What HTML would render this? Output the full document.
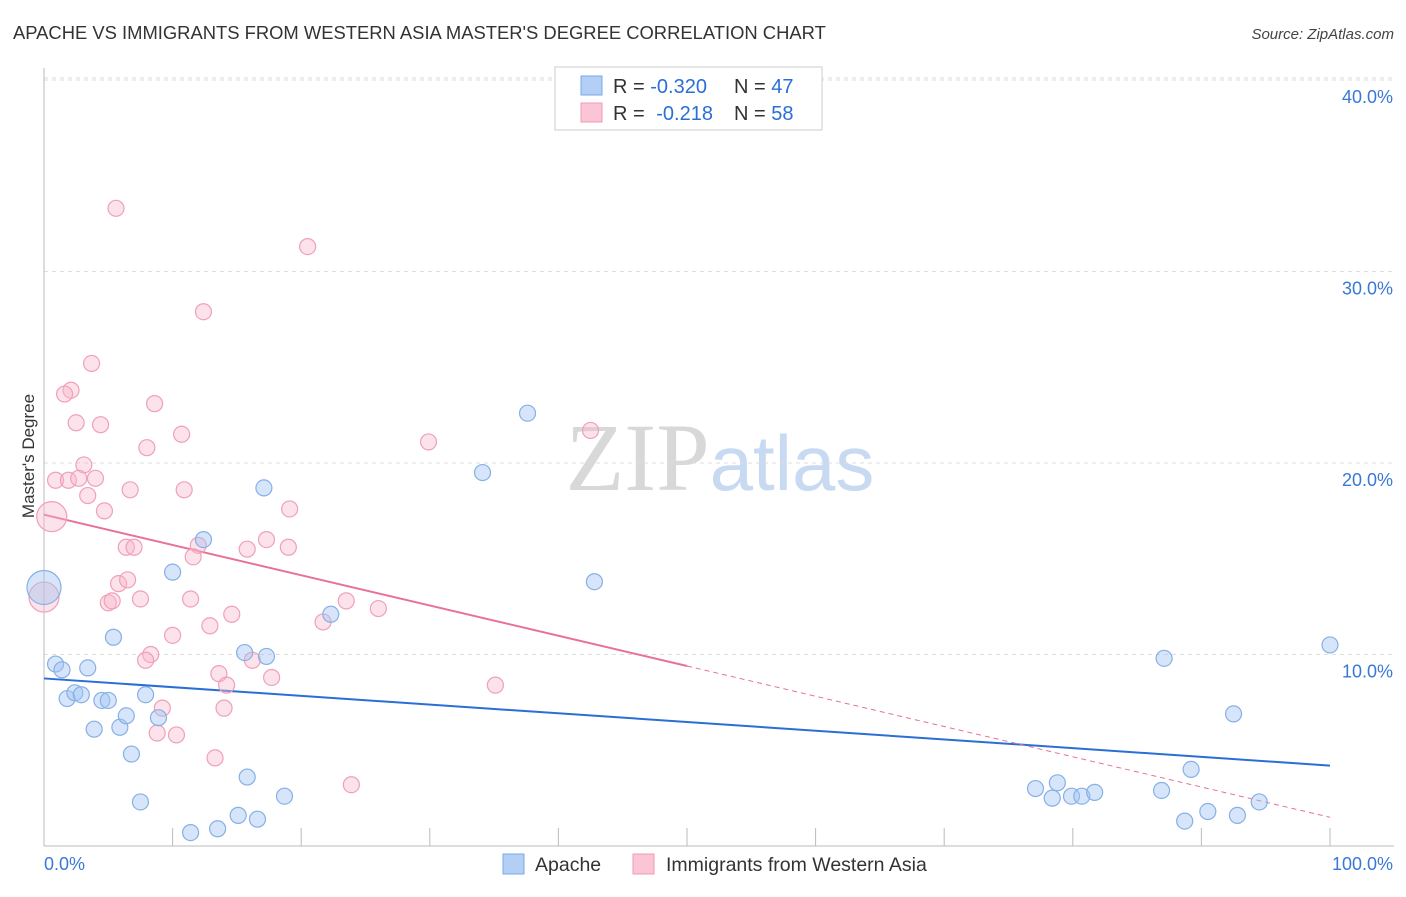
<!DOCTYPE html>
<html><head><meta charset="utf-8"><style>
body{margin:0;background:#fff;font-family:"Liberation Sans",sans-serif;}
svg text{font-family:"Liberation Sans",sans-serif;}
</style></head><body>
<svg id="chart" width="1406" height="892" viewBox="0 0 1406 892" xmlns="http://www.w3.org/2000/svg">
<text x="13" y="39" font-size="18.4" fill="#333">APACHE VS IMMIGRANTS FROM WESTERN ASIA MASTER'S DEGREE CORRELATION CHART</text>
<text x="1394" y="39" font-size="15" fill="#444" text-anchor="end" font-style="italic">Source: ZipAtlas.com</text>
<text x="720" y="490" font-size="96" text-anchor="middle"><tspan fill="#d8d8d8" font-family="Liberation Serif">ZIP</tspan><tspan fill="#c8daf2" font-size="78">atlas</tspan></text>
<g id="grid"></g>
<g id="axes"></g>
<text transform="translate(34,456) rotate(-90)" font-size="17" fill="#333" text-anchor="middle">Master's Degree</text>
<g id="lines"></g>
<g id="points"></g>
<g>
<rect x="555" y="67" width="267" height="63" fill="#fff" stroke="#ccc"/>
<rect x="581" y="76" width="21" height="19" fill="#b3cff5" stroke="#7aaae6"/>
<rect x="581" y="103" width="21" height="19" fill="#fac6d6" stroke="#f09ab6"/>
<text x="613" y="93" font-size="20" fill="#333">R = <tspan fill="#2a6fd6">-0.320</tspan><tspan x="734">N = </tspan><tspan fill="#2a6fd6">47</tspan></text>
<text x="613" y="120" font-size="20" fill="#333">R = <tspan fill="#2a6fd6" dx="6">-0.218</tspan><tspan x="734">N = </tspan><tspan fill="#2a6fd6">58</tspan></text>
</g>
<g>
<rect x="503" y="854" width="21" height="20" fill="#b3cff5" stroke="#7aaae6"/>
<text x="535" y="871" font-size="19.5" fill="#333">Apache</text>
<rect x="633" y="854" width="21" height="20" fill="#fac6d6" stroke="#f09ab6"/>
<text x="666" y="871" font-size="19.5" fill="#333">Immigrants from Western Asia</text>
</g>
</svg>
<script>
const yTicks=[10,20,30,40];
const yTickLabels=["10.0%","20.0%","30.0%","40.0%"];
const xEndLabels=["0.0%","100.0%"];
const apacheX=[0,0.9,1.4,3.4,1.8,2.4,2.9,4.5,5.0,5.4,3.9,5.9,6.4,6.8,7.9,8.9,7.5,10.0,12.4,15.6,17.3,17.1,15.8,15.1,16.6,18.7,11.4,13.5,22.3,34.1,37.6,42.8,100,87.1,92.5,89.2,77.1,78.8,78.4,79.9,80.7,81.7,86.9,88.7,90.5,92.8,94.5];
const apacheY=[13.5,9.5,9.2,9.3,7.7,8.0,7.9,7.6,7.6,10.9,6.1,6.2,6.8,4.8,7.9,6.7,2.3,14.3,16.0,10.1,9.9,18.7,3.6,1.6,1.4,2.6,0.7,0.9,12.1,19.5,22.6,13.8,10.5,9.8,6.9,4.0,3.0,3.3,2.5,2.6,2.6,2.8,2.9,1.3,1.8,1.6,2.3];
const immX=[5.6,20.5,12.4,3.7,2.1,1.6,8.6,2.5,4.4,10.7,8.0,29.9,42.5,3.1,0.9,1.9,2.7,4.0,3.4,6.7,10.9,4.7,19.1,0.6,6.4,7.0,12.0,11.6,15.8,17.3,19.0,5.8,6.5,5.0,5.3,7.5,11.4,14.6,12.9,21.7,23.5,26.0,10.0,8.3,7.9,16.2,13.6,14.2,17.7,35.1,9.2,14.0,8.8,10.3,13.3,23.9,0];
const immY=[33.3,31.3,27.9,25.2,23.8,23.6,23.1,22.1,22.0,21.5,20.8,21.1,21.7,19.9,19.1,19.1,19.2,19.2,18.3,18.6,18.6,17.5,17.6,17.2,15.6,15.6,15.7,15.1,15.5,16.0,15.6,13.7,13.9,12.7,12.8,12.9,12.9,12.1,11.5,11.7,12.8,12.4,11.0,10.0,9.7,9.7,9.0,8.4,8.8,8.4,7.2,7.2,5.9,5.8,4.6,3.2,13.0];
const apacheTrend=[8.75,4.2];
const immTrend=[17.3,1.5];
const immSolidEnd=50;

const NS="http://www.w3.org/2000/svg";
const X0=44,X1=1330,Y0=846,PXY=19.15;
const sx=v=>X0+(X1-X0)*v/100;
const sy=v=>Y0-v*PXY;
function mk(tag,attrs,parent){const e=document.createElementNS(NS,tag);for(const k in attrs)e.setAttribute(k,attrs[k]);parent.appendChild(e);return e;}
const grid=document.getElementById('grid'),axes=document.getElementById('axes');
yTicks.forEach((t,i)=>{
 const l=mk('line',{x1:X0,x2:1394,y1:sy(t),y2:sy(t),stroke:'#ddd','stroke-dasharray':'4,4'},grid);
 
 
 const tx=mk('text',{x:1393,y:sy(t)+23,'font-size':18,fill:'#3a78d6','text-anchor':'end'},axes);
 tx.textContent=yTickLabels[i];
 
 
});
const topLine=mk('line',{x1:X0,x2:1394,y1:78,y2:78,stroke:'#ddd','stroke-dasharray':'4,4'},grid);


mk('line',{x1:X0,x2:X0,y1:68,y2:Y0,stroke:'#bbb'},axes);
mk('line',{x1:X0,x2:1394,y1:Y0,y2:Y0,stroke:'#bbb'},axes);
for(let i=0;i<=10;i++){const l=mk('line',{x1:sx(i*10),x2:sx(i*10),y1:828,y2:Y0,stroke:'#bbb'},axes);
 
 }
const xl0=mk('text',{x:X0,y:870,'font-size':18,fill:'#3a78d6'},axes);xl0.textContent=xEndLabels[0];


const xl1=mk('text',{x:1393,y:870,'font-size':18,fill:'#3a78d6','text-anchor':'end'},axes);xl1.textContent=xEndLabels[1];



const pts=document.getElementById('points');
function dot(x,y,r,fill,stroke,name){const c=mk('circle',{cx:sx(x),cy:sy(y),r:r,fill:fill,stroke:stroke,'stroke-width':1.2},pts);
 
 }
immX.forEach((x,i)=>dot(x,immY[i],(i===23||i===56)?15:8,'rgba(248,182,202,0.4)','#f0a0b8','immigrants-point'));
apacheX.forEach((x,i)=>dot(x,apacheY[i],i===0?17:8,'rgba(165,198,242,0.45)','#86b0e6','apache-point'));

const lines=document.getElementById('lines');
const ty=(tr,x)=>tr[0]+(tr[1]-tr[0])*x/100;
const bl=mk('line',{x1:sx(0),y1:sy(ty(apacheTrend,0)),x2:sx(100),y2:sy(ty(apacheTrend,100)),stroke:'#2a6fd6','stroke-width':2},lines);


const pl=mk('line',{x1:sx(0),y1:sy(ty(immTrend,0)),x2:sx(immSolidEnd),y2:sy(ty(immTrend,immSolidEnd)),stroke:'#e8709a','stroke-width':2},lines);


const pd=mk('line',{x1:sx(immSolidEnd),y1:sy(ty(immTrend,immSolidEnd)),x2:sx(100),y2:sy(ty(immTrend,100)),stroke:'#e8709a','stroke-width':1,'stroke-dasharray':'5,4'},lines);


</script>
</body></html>
